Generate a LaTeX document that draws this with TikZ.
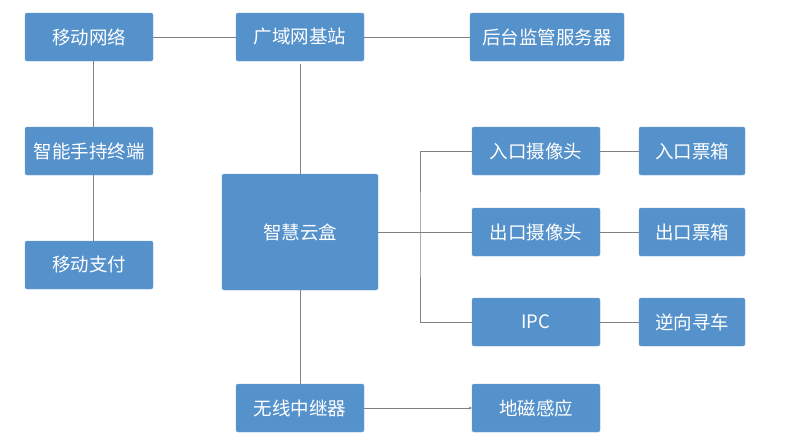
\documentclass[tikz,border=0pt]{standalone}
\usepackage{fontspec}
\setmainfont{Noto Sans CJK SC}
\usetikzlibrary{arrows.meta}

\definecolor{boxblue}{RGB}{85,145,203}
\definecolor{linegray}{RGB}{128,128,128}

\tikzset{
  box/.style={fill=boxblue,draw=boxblue!85!white,rounded corners=2pt,text=white,
    inner sep=0pt,minimum width=128pt,minimum height=48pt,font=\fontsize{18.5pt}{21pt}\selectfont},
  link/.style={draw=linegray,line width=1pt}
}

\begin{document}
\begin{tikzpicture}[x=1pt,y=-1pt]
\useasboundingbox (0,0) rectangle (800,445);

\node[box] (mobnet) at (89,37) {移动网络};
\node[box] (wanbase) at (300,37) {广域网基站};
\node[box,minimum width=154pt] (server) at (547,37) {后台监管服务器};
\node[box] (handheld) at (89,151) {智能手持终端};
\node[box] (mobpay) at (89,265) {移动支付};
\node[box,minimum width=156pt,minimum height=116pt] (cloudbox) at (300,232) {智慧云盒};

\node[box] (incam) at (536,151) {入口摄像头};
\node[box] (outcam) at (536,232) {出口摄像头};
\node[box] (ipc) at (536,322) {IPC};
\node[box,minimum width=106pt] (inticket) at (692,151) {入口票箱};
\node[box,minimum width=106pt] (outticket) at (692,232) {出口票箱};
\node[box,minimum width=106pt] (revsearch) at (692,322) {逆向寻车};

\node[box] (relay) at (300,408) {无线中继器};
\node[box] (geomag) at (536,408) {地磁感应};

\draw[link] (mobnet) -- (wanbase);
\draw[link] (wanbase) -- (server);
\draw[link] ([xshift=4pt]mobnet.south) -- ([xshift=4pt]handheld.north);
\draw[link] ([xshift=4pt]handheld.south) -- ([xshift=4pt]mobpay.north);
\draw[link,shorten <=3pt] (wanbase) -- (cloudbox);
\draw[link] (cloudbox) -- (relay);
\draw[link,-{Stealth[length=3pt,width=3pt]}] (relay) -- (geomag);

\coordinate (trunk) at (420,232);
\draw[link] (cloudbox.east) -- (outcam.west);
\draw[link] (incam.west) -| (trunk) |- (ipc.west);

\draw[link] (incam) -- (inticket);
\draw[link] (outcam) -- (outticket);
\draw[link] (ipc) -- (revsearch);
\end{tikzpicture}
\end{document}
